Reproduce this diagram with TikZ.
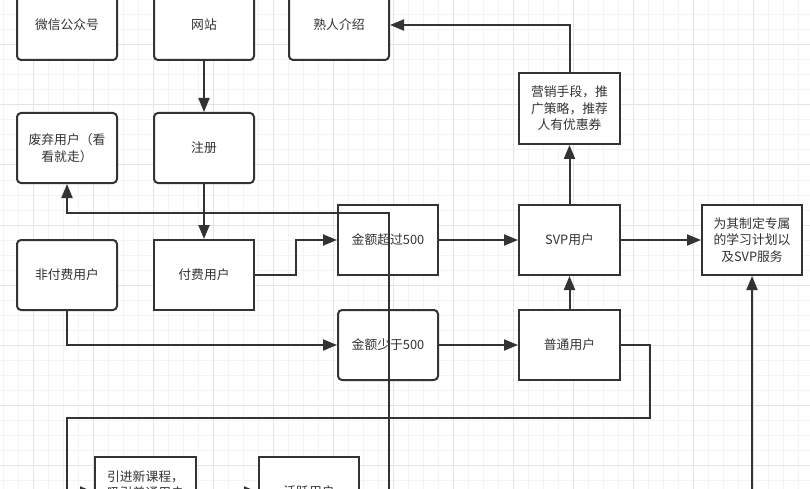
\documentclass[tikz,border=0pt]{standalone}
\usepackage{fontspec}
\newfontfamily\cjk{Noto Sans CJK SC}
\usetikzlibrary{arrows.meta}
\definecolor{ink}{HTML}{333333}
\definecolor{gridmin}{HTML}{F4F4F4}
\definecolor{gridmaj}{HTML}{E4E4E4}
\begin{document}
\begin{tikzpicture}[x=1pt,y=-1pt,
  txt/.style={align=center,font=\cjk\fontsize{12.8}{16.5}\selectfont,text=ink,inner sep=2pt},
  box/.style={txt,draw=ink,line width=2pt,fill=white,minimum width=100pt,minimum height=70pt},
  rbox/.style={box,rounded corners=4pt},
  conn/.style={draw=ink,line width=2pt},
  arr/.style={conn,-{Triangle[length=14pt,width=11pt]}}]
\useasboundingbox (0,0) rectangle (810,489);
\clip (0,0) rectangle (810,489);
\fill[white] (0,0) rectangle (810,489);
% grid
\foreach \x in {3,18,...,808} \draw[gridmin,line width=1pt] (\x,0) -- (\x,489);
\foreach \y in {0,15,...,489} \draw[gridmin,line width=1pt] (0,\y) -- (810,\y);
\foreach \x in {33,93,...,808} \draw[gridmaj,line width=1pt] (\x,0) -- (\x,489);
\foreach \y in {45,105,...,489} \draw[gridmaj,line width=1pt] (0,\y) -- (810,\y);
% nodes
\node[rbox] (wx) at (67,25) {微信公众号};
\node[rbox] (wz) at (204,25) {网站};
\node[rbox] (sr) at (339,25) {熟人介绍};
\node[rbox] (fq) at (67,148) {废弃用户（看\\看就走）};
\node[rbox] (zc) at (204,148) {注册};
\node[rbox] (ff) at (67,275) {非付费用户};
\node[box] (fu) at (204,275) {付费用户};
\node[box] (cg) at (388,240) {金额超过500};
\node[rbox] (sy) at (388,345) {金额少于500};
\node[box,minimum width=101pt] (svp) at (569.5,240) {SVP用户};
\node[box,minimum width=101pt] (pt) at (569.5,345) {普通用户};
\node[box,minimum width=101pt,minimum height=71pt] (yx) at (569.5,108.5) {营销手段，推\\广策略，推荐\\人有优惠券};
\node[box] (wq) at (752,240) {为其制定专属\\的学习计划以\\及SVP服务};
\node[box,minimum width=101pt] (yj) at (145.5,492) {};
\node[txt,anchor=north] (yjt) at (145.5,468) {引进新课程，\\吸引普通用户};
\node[box] (hy) at (309,492) {活跃用户};
% free ends
\coordinate (b1) at (389,530);
\coordinate (b2) at (752,530);
% connectors
\draw[arr] (wz) -- (zc);
\draw[arr] (zc) -- (fu);
\draw[arr] (fu.east) -| (296,240) -- (cg.west);
\draw[arr] (ff.south) |- (sy.west);
\draw[arr] (cg) -- (svp);
\draw[arr] (sy) -- (pt);
\draw[arr] (pt) -- (svp);
\draw[arr] (svp) -- (yx);
\draw[arr] (yx.north) |- (sr.east);
\draw[arr] (svp) -- (wq);
\draw[arr] (pt.east) -- (650,345) -- (650,418) -- (67,418) |- (yj.west);
\draw[arr] (yj) -- (hy);
\draw[arr] (b2) -- (wq.south);
\draw[arr] (b1) -- (389,213) -| (fq.south);
\end{tikzpicture}
\end{document}
